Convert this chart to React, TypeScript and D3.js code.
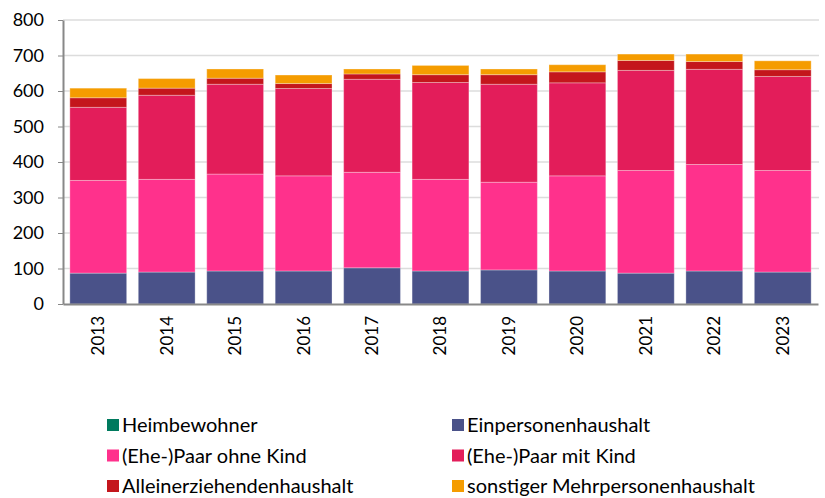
import * as d3 from "d3";
import {useRef, useEffect} from "react";

const years = ["2013","2014","2015","2016","2017","2018","2019","2020","2021","2022","2023"];
const heimbewohner = [0,0,0,0,0,0,0,0,0,0,0];
const einpersonen = [87,90,93,93,102,93,96,93,87,93,90];
const paarOhneKind = [261,261,273,268,269,258,247,268,289,300,286];
const paarMitKind = [206,237,253,246,262,273,276,262,282,268,265];
const alleinerziehend = [27,20,17,14,15,22,27,31,28,22,19];
const sonstige = [27,27,26,24,14,26,16,20,18,21,25];

const seriesNames = ["Heimbewohner","Einpersonenhaushalt","(Ehe-)Paar ohne Kind","(Ehe-)Paar mit Kind","Alleinerziehendenhaushalt","sonstiger Mehrpersonenhaushalt"];
const seriesValues = [heimbewohner, einpersonen, paarOhneKind, paarMitKind, alleinerziehend, sonstige];
const colors = ["#007a5e","#4a5289","#ff318c","#e31d5a","#c4161c","#f59c00"];
const yTicks = [0,100,200,300,400,500,600,700,800];

export default function App({
  width = 825,
  height = 498,
  marginTop = 20,
  marginRight = 7,
  marginBottom = 194,
  marginLeft = 63
}) {
  const gx = useRef(null);
  const gy = useRef(null);
  const rows = years.map((yr, i) => {
    const r: any = {year: yr};
    seriesNames.forEach((n, k) => { r[n] = seriesValues[k][i]; });
    return r;
  });
  const stack = d3.stack().keys(seriesNames)(rows);
  const x = d3.scaleBand(years, [marginLeft, width - marginRight]).paddingInner(0.17).paddingOuter(0.1);
  const y = d3.scaleLinear([0, 800], [height - marginBottom, marginTop]);

  useEffect(() => {
    const g = d3.select(gx.current);
    g.call(d3.axisBottom(x).tickSize(0).tickPadding(0) as any);
    g.select(".domain").attr("stroke", "#888").attr("stroke-width", 2);
    g.selectAll(".tick text")
      .attr("transform", "rotate(-90)")
      .attr("text-anchor", "end")
      .attr("dy", "0.35em")
      .attr("x", -12)
      .attr("y", 0)
      .attr("font-size", 17)
      .attr("font-family", "Lato, sans-serif")
      .attr("fill", "#000");
  }, [x]);
  useEffect(() => {
    const g = d3.select(gy.current);
    g.call(d3.axisLeft(y).tickValues(yTicks).tickSize(5).tickPadding(14).tickSizeOuter(0) as any);
    g.select(".domain").attr("stroke", "#888").attr("stroke-width", 2);
    g.selectAll(".tick line").attr("stroke", "#888");
    g.selectAll(".tick text")
      .attr("font-size", 18)
      .attr("font-family", "Lato, sans-serif")
      .attr("fill", "#000");
  }, [y]);

  return (
    <svg width={width} height={height} style={{position: "absolute", left: 0, top: 0}}>
      <g>
        {yTicks.filter(t => t > 0).map(t => (
          <line key={t} x1={marginLeft} x2={width - marginRight + 1} y1={y(t)} y2={y(t)} stroke="#dcdcdc" strokeWidth={1.5} />
        ))}
      </g>
      {stack.map((s, k) => (
        <g key={s.key} fill={colors[k]} stroke="#fff" strokeOpacity={0.3} strokeWidth={1}>
          {s.map((d, i) => d[1] - d[0] > 0 ? (
            <rect key={i} x={x(years[i])} y={y(d[1])} width={x.bandwidth()} height={y(d[0]) - y(d[1])} />
          ) : null)}
        </g>
      ))}
      <g ref={gx} transform={`translate(0,${height - marginBottom})`} />
      <g ref={gy} transform={`translate(${marginLeft},0)`} />
      <g fontFamily="Lato, sans-serif" fontSize={20}>
        {seriesNames.map((n, k) => {
          const col = k % 2, row = Math.floor(k / 2);
          const lx = col === 0 ? 107 : 452;
          const ly = 425 + row * 30.5;
          return (
            <g key={n} transform={`translate(${lx},${ly})`}>
              <rect x={0} y={-6} width={12} height={12} fill={colors[k]} />
              <text x={15} dy="0.35em" fill="#000">{n}</text>
            </g>
          );
        })}
      </g>
    </svg>
  );
}
